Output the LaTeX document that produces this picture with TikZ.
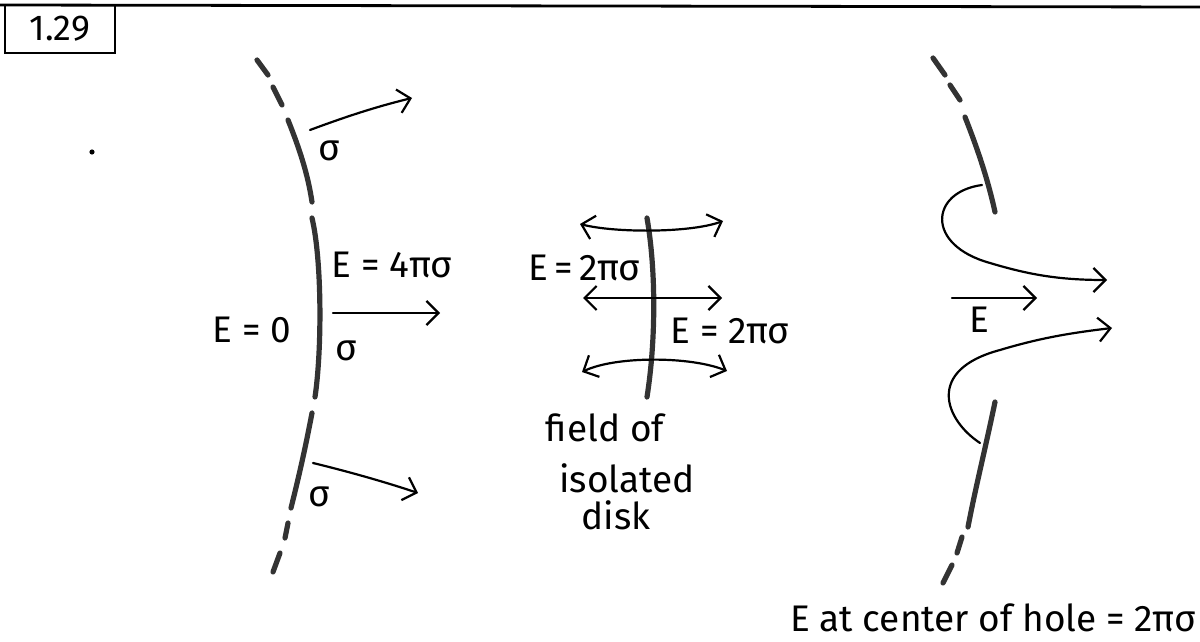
\documentclass[tikz,border=0pt]{standalone}
\usepackage{fontspec}
\setmainfont{Fira Sans}
\usetikzlibrary{arrows.meta}
\tikzset{
  shell/.style={line width=2.6pt, line cap=round, draw=black!80},
  fieldline/.style={line width=1.1pt, line cap=round, -{Straight Barb[length=6pt,width=12pt,line width=1.1pt]}},
  bothline/.style={line width=1.1pt, line cap=round, {Straight Barb[length=6pt,width=12pt,line width=1.1pt]}-{Straight Barb[length=6pt,width=12pt,line width=1.1pt]}},
  lbl/.style={font=\fontsize{18.5}{20}\selectfont, inner sep=0pt}
}
\begin{document}
\begin{tikzpicture}[x=0.5pt,y=-0.5pt]
\useasboundingbox (0,0) rectangle (1200,642);
% header
\draw[line width=1.4pt] (0,5) -- (1200,7);
\node[draw, line width=1.1pt, minimum width=55pt, minimum height=24pt, inner sep=0pt, font=\fontsize{18}{20}\selectfont] (num) at (60,29) {1.29};
\fill (92,152) circle (1.3pt);
% ---------- left: spherical shell ----------
\draw[shell] (257,60) -- (268,75);
\draw[shell] (273,87) -- (282,105);
\draw[shell] (288,120) .. controls (300,150) and (308,175) .. (312,202);
\draw[shell] (312,218) .. controls (322,260) and (322,350) .. (315,397);
\draw[shell] (312,413) .. controls (305,450) and (298,480) .. (291,508);
\draw[shell] (288,523) -- (285,538);
\draw[shell] (280,553) -- (273,572);
\coordinate (a1s) at (310,130); \coordinate (a1e) at (412,98);
\coordinate (a2s) at (333,313); \coordinate (a2e) at (440,313);
\coordinate (a3s) at (313,463); \coordinate (a3e) at (418,493);
\draw[fieldline] (a1s) .. controls (345,117) and (375,107) .. (a1e);
\draw[fieldline] (a2s) -- (a2e);
\draw[fieldline] (a3s) .. controls (350,472) and (385,482) .. (a3e);
\node[lbl] (s1) at (329,151) {σ};
\node[lbl] (s2) at (346,351) {σ};
\node[lbl] (s3) at (319,497) {σ};
\node[lbl] (e4) at (392,265) {E = 4πσ};
\node[lbl] (e0) at (252,330) {E = 0};
% ---------- middle: isolated disk ----------
\draw[shell] (647,218) .. controls (656,270) and (656,340) .. (647,397);
\coordinate (t1) at (580,224); \coordinate (t2) at (723,221);
\coordinate (m1) at (583,298); \coordinate (m2) at (722,298);
\coordinate (b1) at (582,372); \coordinate (b2) at (727,371);
\draw[bothline] (t1) .. controls (615,233) and (690,233) .. (t2);
\draw[bothline] (m1) -- (m2);
\draw[bothline] (b1) .. controls (615,356) and (690,356) .. (b2);
\node[lbl, anchor=east] (e2a) at (641,268) {E\,=\,2πσ};
\node[lbl] (e2b) at (730,331) {E = 2πσ};
\node[lbl] (f1) at (605,428) {field of};
\node[lbl] (f2) at (627,478) {isolated};
\node[lbl] (f3) at (616,515) {disk};
% ---------- right: shell with hole ----------
\draw[shell] (933,58) -- (945,75);
\draw[shell] (950,85) -- (960,100);
\draw[shell] (965,117) .. controls (978,150) and (988,180) .. (995,212);
\draw[shell] (995,402) .. controls (985,450) and (975,490) .. (968,527);
\draw[shell] (962,537) -- (957,553);
\draw[shell] (952,565) -- (943,583);
\coordinate (u1) at (982,185); \coordinate (u2) at (1107,280);
\coordinate (w1) at (980,443); \coordinate (w2) at (1112,328);
\coordinate (h1) at (952,298); \coordinate (h2) at (1037,298);
\draw[fieldline] (u1) .. controls (930,192) and (925,245) .. (990,263) .. controls (1030,275) and (1060,280) .. (u2);
\draw[fieldline] (w1) .. controls (945,420) and (925,370) .. (1000,350) .. controls (1040,338) and (1070,333) .. (w2);
\draw[fieldline] (h1) -- (h2);
\node[lbl] (eh) at (979,320) {E};
\node[lbl] (cap) at (993,618) {E at center of hole = 2πσ};
\end{tikzpicture}
\end{document}
